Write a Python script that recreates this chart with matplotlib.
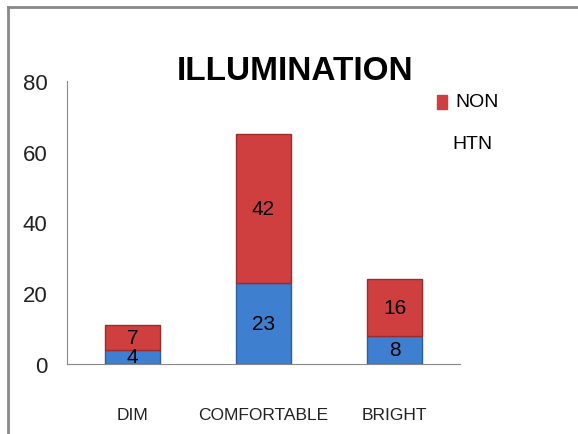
import matplotlib
matplotlib.use("Agg")
import matplotlib.pyplot as plt
import numpy as np
from matplotlib.patches import Rectangle

plt.rcParams['font.family'] = ['Liberation Sans', 'DejaVu Sans']

categories = ["DIM", "COMFORTABLE", "BRIGHT"]
htn = [4, 23, 8]
non_htn = [7, 42, 16]
yticks = [0, 20, 40, 60, 80]

red = "#cf3f3f"
blue = "#3f7fd0"

fig = plt.figure(figsize=(5.78, 4.35), dpi=100)
ax = fig.add_axes([0.1159, 0.161, 0.680, 0.6505])

x = np.arange(len(categories))
w = 0.42
ax.bar(x, htn, width=w, color=blue, edgecolor="#2d5f9e", linewidth=1)
ax.bar(x, non_htn, width=w, bottom=htn, color=red, edgecolor="#9a2c2c", linewidth=1)

for xi, h, n in zip(x, htn, non_htn):
    ax.text(xi, h / 2, str(h), ha="center", va="center", fontsize=15)
    ax.text(xi, h + n / 2, str(n), ha="center", va="center", fontsize=15)

ax.set_xlim(-0.5, 2.5)
ax.set_ylim(0, 80)
ax.set_yticks(yticks)
ax.set_xticks(x)
ax.set_xticklabels(categories)
ax.tick_params(axis="y", length=0, labelsize=16, pad=14, labelcolor="#222222")
ax.tick_params(axis="x", length=0, labelsize=12.5, pad=31, labelcolor="#222222")
for s in ["top", "right"]:
    ax.spines[s].set_visible(False)
ax.spines["left"].set_color("#888888")
ax.spines["bottom"].set_color("#888888")

fig.text(0.51, 1 - 72 / 435, "ILLUMINATION", ha="center", va="center",
         fontsize=24, fontweight="bold")

# legend (second entry is cut off in the original)
fig.patches.append(Rectangle((437 / 578, 1 - 110 / 435), 10 / 578, 14 / 435,
                             transform=fig.transFigure, color=red))
fig.text(455 / 578, 1 - 103 / 435, "NON", ha="left", va="center", fontsize=14)
fig.text(452 / 578, 1 - 145 / 435, "HTN", ha="left", va="center", fontsize=14)

# outer chart frame
fig.add_artist(plt.Line2D([8 / 578, 8 / 578], [0, 1 - 8 / 435],
                          transform=fig.transFigure, color="#888888", lw=2))
fig.add_artist(plt.Line2D([8 / 578, 1], [1 - 8 / 435, 1 - 8 / 435],
                          transform=fig.transFigure, color="#888888", lw=2))

fig.savefig("out.png", dpi=100)
